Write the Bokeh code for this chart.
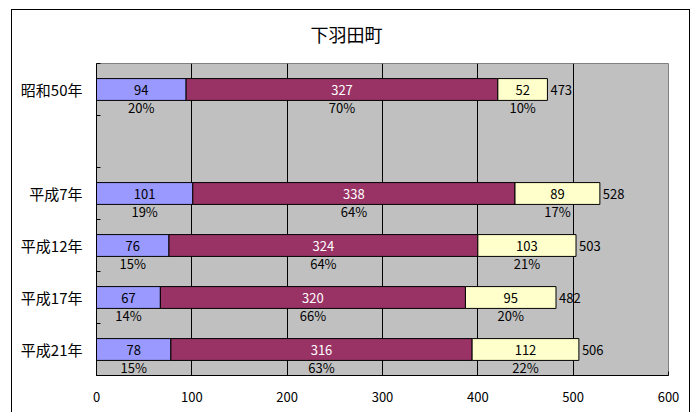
from bokeh.plotting import figure
from bokeh.models import ColumnDataSource, FixedTicker, Range1d, InlineStyleSheet
from bokeh.core.properties import value
from bokeh.embed import file_html
from bokeh.resources import INLINE

# Population by age group (under 15 / 15-64 / 65 and over) per survey year.
# The empty category leaves a visual gap between Showa and Heisei years.
categories = ["昭和50年", "", "平成7年", "平成12年", "平成17年", "平成21年"]
young = [94, None, 101, 76, 67, 78]
working = [327, None, 338, 324, 320, 316]
elderly = [52, None, 89, 103, 95, 112]
young_pct = ["20%", None, "19%", "15%", "14%", "15%"]
working_pct = ["70%", None, "64%", "64%", "66%", "63%"]
elderly_pct = ["10%", None, "17%", "21%", "20%", "22%"]
x_ticks = [0, 100, 200, 300, 400, 500, 600]

FONT = "Noto Sans CJK JP"
BLUE, MAROON, CREAM = "#9999FF", "#993366", "#FFFFCC"

n = len(categories)
centers = [n - i - 0.5 for i in range(n)]
rows = [i for i in range(n) if young[i] is not None]

data = dict(y=[], y_left=[], y_mid=[], w_left=[], w_mid=[], e_left=[], e_right=[],
            e_mid=[], y_txt=[], w_txt=[], e_txt=[], t_txt=[],
            y_pct=[], w_pct=[], e_pct=[])
for i in rows:
    a, b, c = young[i], working[i], elderly[i]
    data["y"].append(centers[i])
    data["y_left"].append(0)
    data["y_mid"].append(a / 2)
    data["w_left"].append(a)
    data["w_mid"].append(a + b / 2)
    data["e_left"].append(a + b)
    data["e_right"].append(a + b + c)
    data["e_mid"].append(a + b + c / 2)
    data["y_txt"].append(str(a))
    data["w_txt"].append(str(b))
    data["e_txt"].append(str(c))
    data["t_txt"].append(str(a + b + c))
    data["y_pct"].append(young_pct[i])
    data["w_pct"].append(working_pct[i])
    data["e_pct"].append(elderly_pct[i])
src = ColumnDataSource(data)

p = figure(width=698, height=412, output_backend="svg", toolbar_location=None,
           x_range=Range1d(0, 600), y_range=Range1d(0, n),
           min_border_left=96, min_border_right=30, min_border_top=63,
           min_border_bottom=37,
           background_fill_color="#C0C0C0", border_fill_color="white",
           outline_line_color="#808080")

p.title.text = "下羽田町"
p.title.text_font = FONT
p.title.text_font_size = "18px"
p.title.text_font_style = "normal"
p.title.text_color = "black"
p.title.align = "left"
p.title.offset = 214
p.title.standoff = 33

bar_h = 0.42
p.hbar(y="y", left="y_left", right="w_left", height=bar_h, source=src,
       fill_color=BLUE, line_color="black", line_width=1)
p.hbar(y="y", left="w_left", right="e_left", height=bar_h, source=src,
       fill_color=MAROON, line_color="black", line_width=1)
p.hbar(y="y", left="e_left", right="e_right", height=bar_h, source=src,
       fill_color=CREAM, line_color="black", line_width=1)

common = dict(source=src, text_font=value(FONT), text_font_size="13px",
              text_baseline="middle")
p.text(x="y_mid", y="y", text="y_txt", text_align="center", text_color="black", **common)
p.text(x="w_mid", y="y", text="w_txt", text_align="center", text_color="white", **common)
p.text(x="e_mid", y="y", text="e_txt", text_align="center", text_color="black", **common)
p.text(x="e_right", y="y", text="t_txt", text_align="left", text_color="black",
       x_offset=3, **common)
for col, mid in (("y_pct", "y_mid"), ("w_pct", "w_mid"), ("e_pct", "e_mid")):
    p.text(x=mid, y="y", text=col, text_align="center", text_color="black",
           y_offset=18, **common)

# x axis: ticks pointing into the plot, vertical black gridlines
p.xaxis.ticker = FixedTicker(ticks=x_ticks)
p.xaxis.major_tick_in = 4
p.xaxis.major_tick_out = 0
p.xaxis.minor_tick_line_color = None
p.xaxis.axis_line_color = "black"
p.xaxis.major_tick_line_color = "black"
p.xaxis.major_label_text_font = FONT
p.xaxis.major_label_text_font_size = "13px"
p.xaxis.major_label_text_color = "black"
p.xaxis.major_label_standoff = 16
p.xgrid.ticker = FixedTicker(ticks=x_ticks[1:-1])
p.xgrid.grid_line_color = "black"
p.ygrid.grid_line_color = None

# y axis: labels at category centres, short tick marks on category boundaries
p.yaxis.ticker = FixedTicker(ticks=centers, minor_ticks=list(range(n + 1)))
p.yaxis.major_label_overrides = {c: lab for c, lab in zip(centers, categories)}
p.yaxis.major_tick_line_color = None
p.yaxis.major_tick_in = 0
p.yaxis.major_tick_out = 0
p.yaxis.minor_tick_line_color = "black"
p.yaxis.minor_tick_in = 4
p.yaxis.minor_tick_out = 0
p.yaxis.axis_line_color = "black"
p.yaxis.major_label_text_font = FONT
p.yaxis.major_label_text_font_size = "15px"
p.yaxis.major_label_text_color = "black"
p.yaxis.major_label_standoff = 14

# frame around the whole chart
p.stylesheets = [InlineStyleSheet(css="""
:host { position: relative; }
:host::after {
  content: ""; position: absolute; left: 11px; top: 9px;
  width: 679px; height: 440px; border: 1.5px solid black;
  box-sizing: border-box; pointer-events: none;
}
""")]

open("out.html", "w").write(file_html(p, INLINE))
